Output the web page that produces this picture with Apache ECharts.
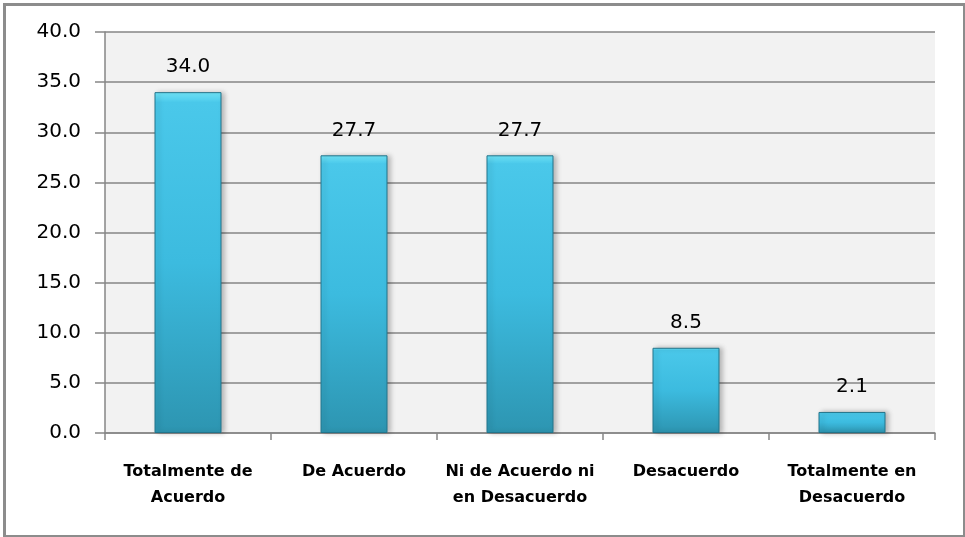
<!DOCTYPE html>
<html>
<head>
<meta charset="utf-8">
<script src="https://cdn.jsdelivr.net/npm/echarts@6/dist/echarts.min.js"></script>
<style>
  html, body { margin: 0; padding: 0; background: #fff; }
  #main { width: 965px; height: 537px; }
</style>
</head>
<body>
<div id="main"></div>
<script>
// categorías y porcentajes
const categories = [
  'Totalmente de\nAcuerdo',
  'De Acuerdo',
  'Ni de Acuerdo ni\nen Desacuerdo',
  'Desacuerdo',
  'Totalmente en\nDesacuerdo'
];
const values = [34.0, 27.7, 27.7, 8.5, 2.1];
const yTicks = [0, 5, 10, 15, 20, 25, 30, 35, 40];

const chart = echarts.init(document.getElementById('main'));

// color de barra con efecto bisel
const barColor = new echarts.graphic.LinearGradient(0, 0, 0, 1, [
  { offset: 0, color: '#72e8fa' },
  { offset: 0.03, color: '#4ac8ea' },
  { offset: 0.5, color: '#3cbbdf' },
  { offset: 1, color: '#2d95b1' }
]);

const option = {
  animation: false,
  backgroundColor: '#ffffff',
  textStyle: { fontFamily: 'DejaVu Sans' },
  graphic: [{
    type: 'rect',
    left: 2, top: 2,
    shape: { width: 960, height: 532 },
    style: { fill: 'none', stroke: '#8c8c8c', lineWidth: 3 }
  }],
  grid: {
    left: 105, right: 30, top: 32, bottom: 104,
    show: true, backgroundColor: '#f2f2f2', borderWidth: 0
  },
  xAxis: {
    type: 'category',
    data: categories,
    axisLine: { lineStyle: { color: '#868686', width: 1.5 } },
    axisTick: { show: true, length: 7, alignWithLabel: false, lineStyle: { color: '#868686', width: 1.5 } },
    axisLabel: {
      color: '#000', fontSize: 16, fontWeight: 'bold', margin: 26,
      lineHeight: 26, fontFamily: 'DejaVu Sans', interval: 0
    }
  },
  yAxis: {
    type: 'value',
    min: yTicks[0],
    max: yTicks[yTicks.length - 1],
    interval: 5,
    axisLine: { show: true, lineStyle: { color: '#868686', width: 1.5 } },
    axisTick: { show: true, length: 10, lineStyle: { color: '#868686', width: 1.5 } },
    splitLine: { show: true, lineStyle: { color: '#868686', width: 1.5 } },
    axisLabel: {
      color: '#000', fontSize: 20, margin: 24, fontFamily: 'DejaVu Sans',
      formatter: (v) => v.toFixed(1)
    }
  },
  series: [{
    type: 'bar',
    data: values,
    barWidth: 67,
    itemStyle: {
      color: barColor,
      borderColor: '#22748b',
      borderWidth: 1,
      shadowColor: 'rgba(0,0,0,0.25)',
      shadowBlur: 5,
      shadowOffsetX: 3
    },
    label: {
      show: true,
      position: 'top',
      distance: 15,
      color: '#000',
      fontSize: 20,
      fontFamily: 'DejaVu Sans',
      formatter: (p) => p.value.toFixed(1)
    }
  }]
};

chart.setOption(option);
</script>
</body>
</html>
